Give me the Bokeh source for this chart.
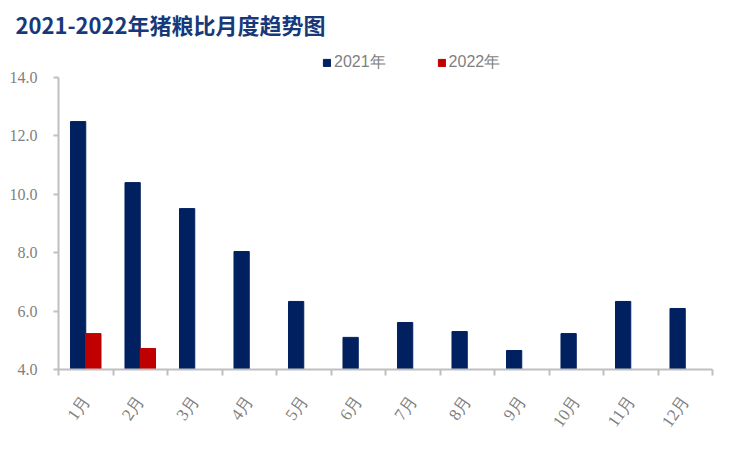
import math
from bokeh.plotting import figure
from bokeh.layouts import column
from bokeh.models import (FixedTicker, NumeralTickFormatter, Legend, LegendItem,
                          Range1d, ColumnDataSource)
from bokeh.embed import file_html
from bokeh.resources import INLINE

months = ["1月", "2月", "3月", "4月", "5月", "6月", "7月", "8月", "9月", "10月", "11月", "12月"]
v2021 = [12.49, 10.40, 9.51, 8.04, 6.33, 5.10, 5.61, 5.30, 4.65, 5.23, 6.33, 6.09]
v2022 = [5.23, 4.72]
series_names = ["2021年", "2022年"]
y_ticks = [4, 6, 8, 10, 12, 14]
title_text = "2021-2022年猪粮比月度趋势图"

NAVY = "#002060"
RED = "#C00000"
AXIS = "#BFBFBF"
TICK_TXT = "#7F7F7F"

W = 737
HEAD_H = 69
H = 442 - HEAD_H
FL, FT, FW, FH = 58, 8, 654, 292

# ---------- header (title + legend) ----------
head = figure(width=W, height=HEAD_H, output_backend="svg", toolbar_location=None,
              x_range=Range1d(0, 1), y_range=Range1d(0, 1),
              x_axis_location=None, y_axis_location=None,
              min_border_left=FL, min_border_right=W - FL - FW,
              min_border_top=3, min_border_bottom=0)
head.outline_line_color = None
head.grid.visible = False
head.title.text = title_text
head.title.align = "left"
head.title.offset = 15 - FL
head.title.text_font = "Noto Sans CJK SC"
head.title.text_font_style = "bold"
head.title.text_font_size = "22px"
head.title.text_color = "#17397A"
hidden = ColumnDataSource(dict(x=[-10], top=[-10]))
h21 = head.vbar(x="x", top="top", width=0.1, source=hidden, color=NAVY)
h22 = head.vbar(x="x", top="top", width=0.1, source=hidden, color=RED)
legend = Legend(items=[LegendItem(label=series_names[0], renderers=[h21]),
                       LegendItem(label=series_names[1], renderers=[h22])],
                orientation="horizontal", location=(322 - FL, -4),
                glyph_width=9, glyph_height=9, spacing=51, padding=0,
                margin=0, label_standoff=3, border_line_color=None,
                background_fill_alpha=0, label_height=12,
                label_text_line_height=0.8,
                label_text_font="Liberation Sans", label_text_font_size="16px",
                label_text_color=TICK_TXT)
head.add_layout(legend, "center")

# ---------- main chart ----------
idx = list(range(1, len(months) + 1))
bw = 0.28
src21 = ColumnDataSource(dict(x=[i - bw / 2 for i in idx], top=v2021))
src22 = ColumnDataSource(dict(x=[i + bw / 2 for i in idx[:len(v2022)]], top=v2022))

p = figure(width=W, height=H, output_backend="svg", toolbar_location=None,
           x_range=Range1d(0.5, 12.5), y_range=Range1d(4, 14),
           min_border_left=FL, min_border_right=W - FL - FW, min_border_top=FT,
           min_border_bottom=H - FT - FH)
p.outline_line_color = None
p.xgrid.grid_line_color = None
p.ygrid.grid_line_color = None

p.vbar(x="x", top="top", bottom=4, width=bw, source=src21, color=NAVY)
p.vbar(x="x", top="top", bottom=4, width=bw, source=src22, color=RED)

ya = p.yaxis[0]
ya.ticker = FixedTicker(ticks=y_ticks)
ya.formatter = NumeralTickFormatter(format="0.0")
ya.axis_line_color = AXIS
ya.axis_line_width = 2
ya.major_tick_line_color = AXIS
ya.major_tick_line_width = 2
ya.major_tick_out = 5
ya.major_tick_in = 0
ya.minor_tick_line_color = None
ya.major_label_text_font = "Liberation Serif"
ya.major_label_text_font_size = "16px"
ya.major_label_text_color = TICK_TXT
ya.major_label_standoff = 16

xa = p.xaxis[0]
xa.ticker = FixedTicker(ticks=idx, minor_ticks=[i + 0.5 for i in range(0, 13)])
xa.major_label_overrides = {i: m for i, m in zip(idx, months)}
xa.axis_line_color = AXIS
xa.axis_line_width = 2
xa.major_tick_line_color = None
xa.major_tick_out = 0
xa.major_tick_in = 0
xa.minor_tick_line_color = AXIS
xa.minor_tick_line_width = 2
xa.minor_tick_out = 6
xa.minor_tick_in = 0
xa.major_label_orientation = math.radians(55)
xa.major_label_text_font = "Liberation Serif"
xa.major_label_text_font_size = "17px"
xa.major_label_text_color = TICK_TXT
xa.major_label_standoff = 22

layout = column(head, p, spacing=0)
open("out.html", "w").write(file_html(layout, INLINE))
